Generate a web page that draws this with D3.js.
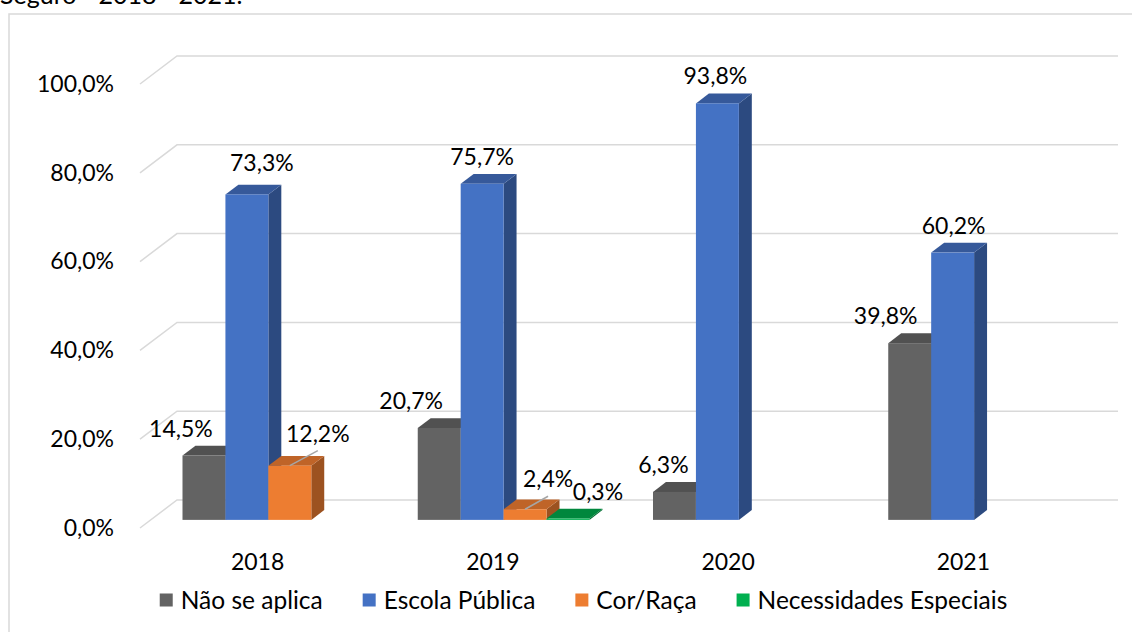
<!DOCTYPE html>
<html>
<head>
<meta charset="utf-8">
<script src="https://d3js.org/d3.v7.min.js"></script>
<style>
body { margin: 0; background: #fff; }
svg text { font-family: Lato, "Open Sans", sans-serif; fill: #000; }
.grid { fill: none; stroke: #d9d9d9; stroke-width: 1.5; }
</style>
</head>
<body>
<div id="chart"></div>
<script>
// values
var years = ["2018", "2019", "2020", "2021"];
var seriesNames = ["Não se aplica", "Escola Pública", "Cor/Raça", "Necessidades Especiais"];
var naoSeAplica = [14.5, 20.7, 6.3, 39.8];
var escolaPublica = [73.3, 75.7, 93.8, 60.2];
var corRaca = [12.2, 2.4, null, null];
var necessidades = [null, 0.3, null, null];
var yTicks = [0, 20, 40, 60, 80, 100];

var seriesValues = [naoSeAplica, escolaPublica, corRaca, necessidades];

// face colours per series: front, top, side
var colors = [
  { front: "#636363", top: "#515151", side: "#474747", key: "#636363" },
  { front: "#4472c4", top: "#36599a", side: "#2c4a80", key: "#4472c4" },
  { front: "#ed7d31", top: "#bf6428", side: "#9c5220", key: "#ed7d31" },
  { front: "#00b050", top: "#00873d", side: "#006e32", key: "#00b050" }
];

// hand-placed data labels in the reference (dx, dy from default spot)
var labelNudge = {
  "0-2018": [-23, 0], "0-2019": [-28, 0], "0-2020": [-11, 0], "0-2021": [-24, 0],
  "1-2018": [15, -4], "1-2020": [-2, 0], "1-2021": [1, 0],
  "2-2018": [28, -5, true], "2-2019": [23, -3, true],
  "3-2019": [30, 0]
};

var W = 1132, H = 632;
var depthX = 37, depthY = 28;       // floor depth offset (front -> back wall)
var barFront = 0.29, barDepth = 0.35;

var svg = d3.select("#chart").append("svg")
    .attr("width", W)
    .attr("height", H);

// title, cut off at the top of the picture (as in the reference)
svg.append("text")
    .attr("x", 0)
    .attr("y", 4)
    .style("font-size", "25px")
    .text("Seguro - 2018 - 2021.");

// chart frame
svg.append("rect")
    .attr("x", 9).attr("y", 14)
    .attr("width", W + 20).attr("height", H + 20)
    .style("fill", "none")
    .style("stroke", "#d9d9d9")
    .style("stroke-width", 1.5);

var x0 = d3.scaleBand().domain(years).range([140, 1081]);
var x1 = d3.scaleBand().domain(d3.range(4)).range([0, x0.bandwidth()]).paddingOuter(0.74);
var y = d3.scaleLinear().domain([0, 100]).range([528, 84]);

// gridlines: left wall diagonal + back wall line
svg.selectAll(".grid")
    .data(yTicks)
    .enter()
    .append("polyline")
      .attr("class", "grid")
      .attr("points", function(d) {
        var yf = y(d), yb = y(d) - depthY;
        return [[140, yf], [140 + depthX, yb], [1081 + depthX, yb]].join(" ");
      });

// y axis labels
var yAxis = d3.axisLeft(y)
    .tickValues(yTicks)
    .tickSize(0)
    .tickPadding(26)
    .tickFormat(function(d) { return d.toFixed(1).replace(".", ",") + "%"; });

svg.append("g")
    .attr("transform", "translate(140,0)")
    .call(yAxis)
    .call(function(g) { g.select(".domain").remove(); })
    .selectAll("text")
      .style("font-size", "23px")
      .style("font-family", "Lato, sans-serif")
      .attr("fill", "#000");

// x axis labels
var xAxis = d3.axisBottom(x0).tickSize(0).tickPadding(0);
svg.append("g")
    .attr("transform", "translate(0,528)")
    .call(xAxis)
    .call(function(g) { g.select(".domain").remove(); })
    .selectAll("text")
      .attr("y", 34)
      .attr("dy", "0.35em")
      .style("font-size", "23px")
      .style("font-family", "Lato, sans-serif")
      .attr("fill", "#000");

// bar records
var bars = [];
years.forEach(function(yr, yi) {
  seriesValues.forEach(function(vals, si) {
    if (vals[yi] == null) return;
    bars.push({ year: yr, s: si, value: vals[yi] });
  });
});

var fx = barFront * depthX, fy = barFront * depthY;
var dx = barDepth * depthX, dy = barDepth * depthY;

function geom(d) {
  var xl = x0(d.year) + x1(d.s) + fx;
  var xr = xl + x1.bandwidth();
  var yt = y(d.value) - fy;
  var yb = y(0) - fy;
  return { xl: xl, xr: xr, yt: yt, yb: yb };
}

var barG = svg.selectAll(".bar")
    .data(bars)
    .enter()
    .append("g")
      .attr("class", "bar");

barG.append("polygon")
    .attr("points", function(d) {
      var g = geom(d);
      return [[g.xr, g.yt], [g.xr + dx, g.yt - dy], [g.xr + dx, g.yb - dy], [g.xr, g.yb]].join(" ");
    })
    .style("fill", function(d) { return colors[d.s].side; });

barG.append("polygon")
    .attr("points", function(d) {
      var g = geom(d);
      return [[g.xl, g.yt], [g.xr, g.yt], [g.xr + dx, g.yt - dy], [g.xl + dx, g.yt - dy]].join(" ");
    })
    .style("fill", function(d) { return colors[d.s].top; });

barG.append("rect")
    .attr("x", function(d) { return geom(d).xl; })
    .attr("y", function(d) { return geom(d).yt; })
    .attr("width", x1.bandwidth())
    .attr("height", function(d) { var g = geom(d); return Math.max(g.yb - g.yt, 0.8); })
    .style("fill", function(d) { return colors[d.s].front; });

// data labels
function labelPos(d) {
  var g = geom(d);
  var n = labelNudge[d.s + "-" + d.year] || [0, 0];
  return { cx: (g.xl + g.xr) / 2 + n[0], cy: g.yt - 27 + n[1], leader: !!n[2], bx: (g.xl + g.xr) / 2, by: g.yt };
}

svg.selectAll(".leader")
    .data(bars.filter(function(d) { return labelPos(d).leader; }))
    .enter()
    .append("line")
      .attr("class", "leader")
      .attr("x1", function(d) { return labelPos(d).bx; })
      .attr("y1", function(d) { return labelPos(d).by; })
      .attr("x2", function(d) { return labelPos(d).cx; })
      .attr("y2", function(d) { return labelPos(d).cy + 17; })
      .style("stroke", "#a6a6a6")
      .style("stroke-width", 1.5);

svg.selectAll(".dlabel")
    .data(bars)
    .enter()
    .append("text")
      .attr("class", "dlabel")
      .attr("x", function(d) { return labelPos(d).cx; })
      .attr("y", function(d) { return labelPos(d).cy; })
      .attr("dy", "0.35em")
      .attr("text-anchor", "middle")
      .style("font-size", "23px")
      .text(function(d) { return d.value.toFixed(1).replace(".", ",") + "%"; });

// legend
var legend = svg.append("g").attr("class", "legend");
var items = legend.selectAll(".item")
    .data(seriesNames)
    .enter()
    .append("g")
      .attr("class", "item");

items.append("rect")
    .attr("width", 13)
    .attr("height", 13)
    .attr("y", -6.5)
    .style("fill", function(d, i) { return colors[i].key; });

items.append("text")
    .attr("x", 21)
    .attr("dy", "0.35em")
    .style("font-size", "24.5px")
    .text(function(d) { return d; });

var lx = 0;
items.each(function() {
  var w = d3.select(this).select("text").node().getComputedTextLength();
  d3.select(this).attr("transform", "translate(" + lx + ",0)");
  lx += 21 + w + 40;
});
lx -= 40;
legend.attr("transform", "translate(" + (583.5 - lx / 2) + ",600)");
</script>
</body>
</html>
